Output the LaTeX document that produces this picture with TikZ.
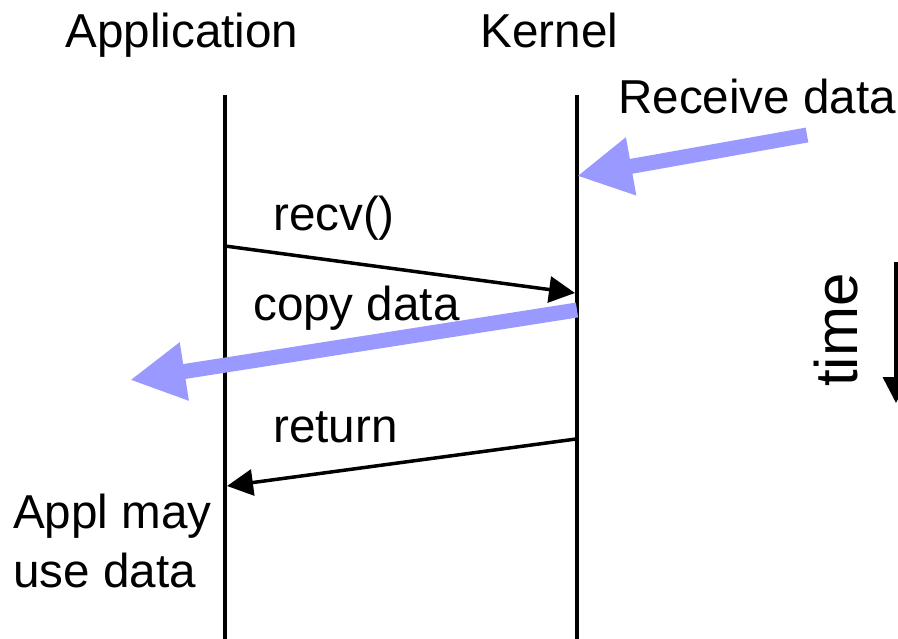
\documentclass[tikz,border=0pt]{standalone}
\usepackage{fontspec}
\setmainfont{Liberation Sans}
\usetikzlibrary{arrows.meta}
\definecolor{databl}{HTML}{9999FF}
\begin{document}
\begin{tikzpicture}[x=1pt,y=-1pt,
  lbl/.style={inner sep=0pt, font=\fontsize{47.6}{56}\selectfont},
  biglbl/.style={inner sep=0pt, font=\fontsize{60}{70}\selectfont},
  lifeline/.style={line width=4pt, black},
  msg/.style={line width=3.5pt, black, -{Triangle[length=26pt,width=26pt]}},
  flow/.style={line width=15pt, databl, -{Triangle[length=55pt,width=55pt]}}]
\useasboundingbox (0,0) rectangle (898,638);

% column headings
\node[lbl, anchor=base] (app) at (182,47) {Application};
\node[lbl, anchor=base] (ker) at (549.5,47) {Kernel};

% lifelines
\coordinate (appTop) at (225,95);
\coordinate (appBot) at (225,645);
\coordinate (kerTop) at (576.5,95);
\coordinate (kerBot) at (576.5,645);
\draw[lifeline] (appTop) -- (appBot);
\draw[lifeline] (kerTop) -- (kerBot);

% incoming data
\node[lbl, anchor=base west] (rcv) at (618,113) {Receive data};
\coordinate (rcvTail) at (807,135);
\coordinate (rcvTip) at (577,176);
\draw[flow] (rcvTail) -- (rcvTip);

% recv() call
\node[lbl, anchor=base west] (recvL) at (273,230) {recv()};
\coordinate (recvA) at (225,246);
\coordinate (recvB) at (575,293);
\draw[msg] (recvA) -- (recvB);

% copy data
\node[lbl, anchor=base west] (copyL) at (253,320) {copy data};
\coordinate (copyA) at (577,310);
\coordinate (copyB) at (130,380);
\draw[flow] (copyA) -- (copyB);

% return
\node[lbl, anchor=base west] (retL) at (273,442) {return};
\coordinate (retA) at (576,439);
\coordinate (retB) at (227,486);
\draw[msg] (retA) -- (retB);

% application side note
\node[lbl, anchor=base west] (use1) at (13,528) {Appl may};
\node[lbl, anchor=base west] (use2) at (13,587) {use data};

% time axis
\node[biglbl, anchor=base, rotate=90] (timeL) at (857,330) {time};
\coordinate (tA) at (896,262);
\coordinate (tB) at (896,403);
\draw[msg] (tA) -- (tB);
\end{tikzpicture}
\end{document}
